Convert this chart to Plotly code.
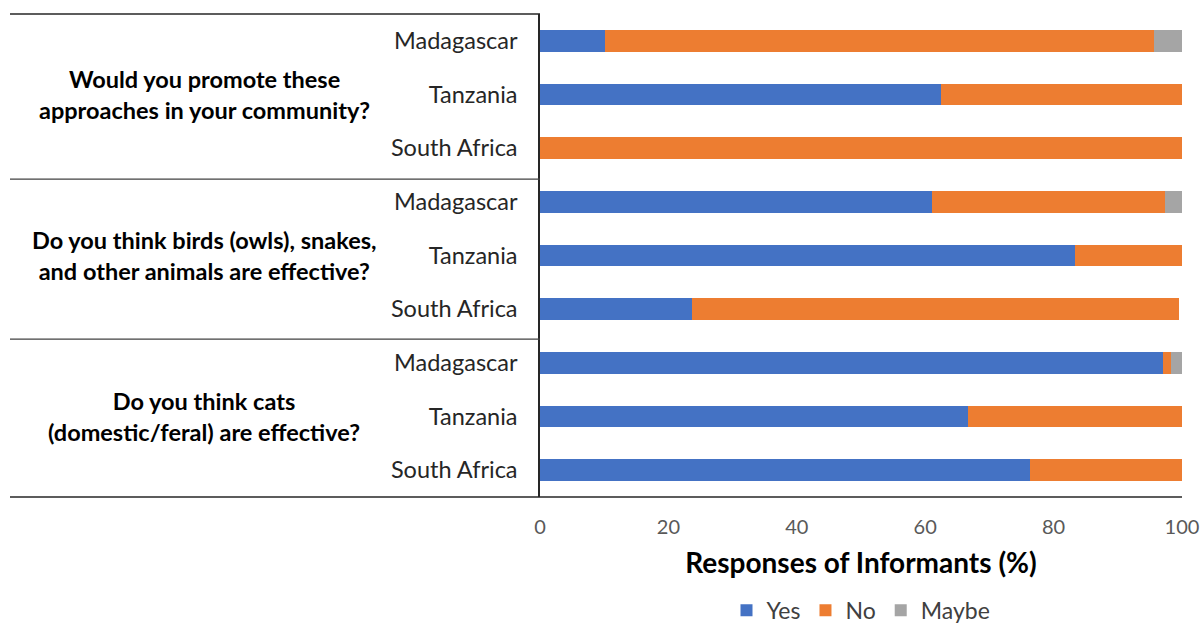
import plotly.graph_objects as go

questions = [
    "Would you promote these<br>approaches in your community?",
    "Do you think birds (owls), snakes,<br>and other animals are effective?",
    "Do you think cats<br>(domestic/feral) are effective?",
]
countries = ["Madagascar", "Tanzania", "South Africa"]

yes_vals = [10.1, 62.5, 0.0, 61.1, 83.3, 23.6, 97.1, 66.7, 76.4]
no_vals = [85.6, 37.5, 100.0, 36.3, 16.7, 75.9, 1.2, 33.3, 23.6]
maybe_vals = [4.3, 0.0, 0.0, 2.6, 0.0, 0.0, 1.7, 0.0, 0.0]

x_ticks = [0, 20, 40, 60, 80, 100]

keys = [f"Q{qi+1}|{c}" for qi in range(len(questions)) for c in countries]
labels = [c for _ in questions for c in countries]

FONT = "Lato"
colors = {"Yes": "#4472C4", "No": "#ED7D31", "Maybe": "#A5A5A5"}

fig = go.Figure()
for name, vals in [("Yes", yes_vals), ("No", no_vals), ("Maybe", maybe_vals)]:
    fig.add_trace(go.Bar(
        y=keys, x=vals, name=name, orientation="h",
        marker=dict(color=colors[name], line=dict(width=0)),
    ))

fig.update_layout(
    barmode="stack",
    bargap=0.6,
    width=1200, height=623,
    margin=dict(l=540, r=18, t=14, b=126, autoexpand=False),
    paper_bgcolor="white", plot_bgcolor="white",
    font=dict(family=FONT, color="#000000"),
    legend=dict(
        orientation="h", x=0.5, xanchor="center", y=-0.19, yanchor="top",
        font=dict(family=FONT, size=23, color="#404040"),
        traceorder="normal", itemwidth=30,
    ),
    xaxis=dict(
        range=[0, 100], tickvals=x_ticks, showgrid=False, zeroline=False,
        showline=False, ticks="outside", ticklen=12, tickcolor="rgba(0,0,0,0)",
        tickfont=dict(family=FONT, size=20, color="#595959"),
        automargin=False,
        title=dict(text="<b>Responses of Informants (%)</b>",
                   font=dict(family=FONT, size=28, color="#000000"), standoff=16),
    ),
    yaxis=dict(
        categoryorder="array", categoryarray=keys, autorange="reversed",
        tickvals=keys, ticktext=labels, automargin=False,
        showline=True, linecolor="#262626", linewidth=1.5,
        showgrid=False, zeroline=False,
        ticks="outside", ticklen=16, tickcolor="rgba(0,0,0,0)",
        tickfont=dict(family=FONT, size=23.5, color="#262626"),
    ),
)

# group labels
for qi, q in enumerate(questions):
    fig.add_annotation(
        text=f"<b>{q}</b>", xref="paper", yref="y",
        x=(204 - 540) / 642, y=keys[qi * 3 + 1], xanchor="center", yanchor="middle",
        showarrow=False, align="center",
        font=dict(family=FONT, size=23.5, color="#000000"),
    )

# separator lines
xl = (10 - 540) / 642
line_style = dict(color="#262626", width=1.5)
fig.add_shape(type="line", xref="paper", yref="paper", x0=xl, x1=0, y0=1, y1=1, line=line_style)
fig.add_shape(type="line", xref="paper", yref="paper", x0=xl, x1=0, y0=0.658, y1=0.658, line=dict(color="#404040", width=1.2))
fig.add_shape(type="line", xref="paper", yref="paper", x0=xl, x1=0, y0=0.327, y1=0.327, line=dict(color="#404040", width=1.2))
fig.add_shape(type="line", xref="paper", yref="paper", x0=xl, x1=1, y0=0, y1=0, line=line_style)

fig.write_html(
    "out.html",
    config={"displayModeBar": False},
    post_script="document.body.style.margin='0';document.body.style.overflow='hidden';document.documentElement.style.overflow='hidden';",
)
